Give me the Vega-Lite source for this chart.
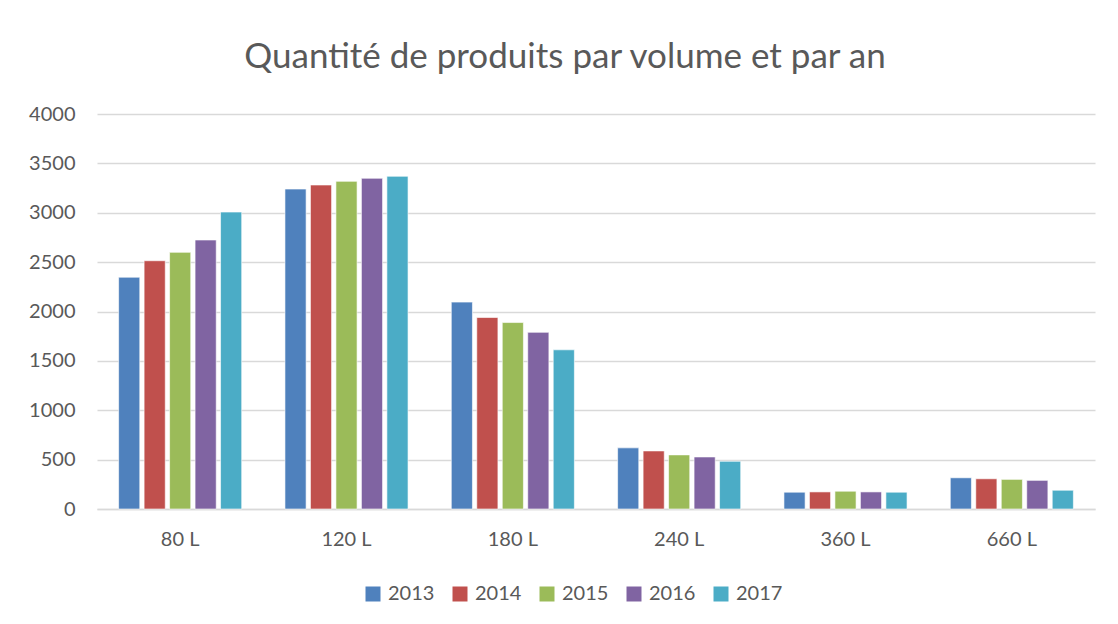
{
  "$schema": "https://vega.github.io/schema/vega-lite/v6.json",
  "autosize": {"type": "none"},
  "padding": {"left": 97, "top": 114, "right": 23, "bottom": 115},
  "width": 998,
  "height": 395,
  "background": "white",
  "title": {
    "text": "Quantité de produits par volume et par an",
    "font": "Lato",
    "fontSize": 35,
    "fontWeight": "normal",
    "color": "#595959",
    "anchor": "middle",
    "baseline": "alphabetic",
    "offset": 1,
    "dx": -31
  },
  "data": {
    "values": [
      {"volume": "80 L", "annee": "2013", "quantite": 2347},
      {"volume": "80 L", "annee": "2014", "quantite": 2514},
      {"volume": "80 L", "annee": "2015", "quantite": 2599},
      {"volume": "80 L", "annee": "2016", "quantite": 2724},
      {"volume": "80 L", "annee": "2017", "quantite": 3007},
      {"volume": "120 L", "annee": "2013", "quantite": 3240},
      {"volume": "120 L", "annee": "2014", "quantite": 3281},
      {"volume": "120 L", "annee": "2015", "quantite": 3318},
      {"volume": "120 L", "annee": "2016", "quantite": 3349},
      {"volume": "120 L", "annee": "2017", "quantite": 3369},
      {"volume": "180 L", "annee": "2013", "quantite": 2095},
      {"volume": "180 L", "annee": "2014", "quantite": 1939},
      {"volume": "180 L", "annee": "2015", "quantite": 1888},
      {"volume": "180 L", "annee": "2016", "quantite": 1789},
      {"volume": "180 L", "annee": "2017", "quantite": 1612},
      {"volume": "240 L", "annee": "2013", "quantite": 619},
      {"volume": "240 L", "annee": "2014", "quantite": 588},
      {"volume": "240 L", "annee": "2015", "quantite": 548},
      {"volume": "240 L", "annee": "2016", "quantite": 527},
      {"volume": "240 L", "annee": "2017", "quantite": 483},
      {"volume": "360 L", "annee": "2013", "quantite": 170},
      {"volume": "360 L", "annee": "2014", "quantite": 173},
      {"volume": "360 L", "annee": "2015", "quantite": 180},
      {"volume": "360 L", "annee": "2016", "quantite": 173},
      {"volume": "360 L", "annee": "2017", "quantite": 170},
      {"volume": "660 L", "annee": "2013", "quantite": 316},
      {"volume": "660 L", "annee": "2014", "quantite": 306},
      {"volume": "660 L", "annee": "2015", "quantite": 300},
      {"volume": "660 L", "annee": "2016", "quantite": 290},
      {"volume": "660 L", "annee": "2017", "quantite": 190}
    ]
  },
  "mark": {"type": "bar", "stroke": "#ffffff", "strokeOpacity": 0.6, "strokeWidth": 1},
  "encoding": {
    "x": {
      "field": "volume",
      "type": "nominal",
      "sort": null,
      "title": null,
      "scale": {"paddingInner": 0.26, "paddingOuter": 0.13},
      "axis": {
        "labelAngle": 0,
        "labelFont": "Lato",
        "labelFontSize": 20,
        "labelColor": "#595959",
        "labelPadding": 20,
        "ticks": false,
        "domainColor": "#d9d9d9",
        "domainWidth": 1.5
      }
    },
    "xOffset": {
      "field": "annee",
      "type": "nominal",
      "scale": {"paddingInner": 0.17}
    },
    "y": {
      "field": "quantite",
      "type": "quantitative",
      "title": null,
      "scale": {"domain": [0, 4000]},
      "axis": {
        "values": [0, 500, 1000, 1500, 2000, 2500, 3000, 3500, 4000],
        "format": "d",
        "labelFont": "Lato",
        "labelFontSize": 20,
        "labelColor": "#595959",
        "labelPadding": 22,
        "ticks": false,
        "domain": false,
        "gridColor": "#d9d9d9",
        "gridWidth": 1.5
      }
    },
    "color": {
      "field": "annee",
      "type": "nominal",
      "title": null,
      "scale": {
        "domain": ["2013", "2014", "2015", "2016", "2017"],
        "range": ["#4F81BD", "#C0504D", "#9BBB59", "#8064A2", "#4BACC6"]
      },
      "legend": {
        "orient": "none",
        "direction": "horizontal",
        "legendX": 266,
        "legendY": 470,
        "symbolType": "square",
        "symbolSize": 225,
        "symbolStrokeWidth": 0,
        "labelFont": "Lato",
        "labelFontSize": 20,
        "labelColor": "#595959",
        "columnPadding": 15,
        "labelOffset": 5
      }
    }
  },
  "config": {"view": {"stroke": null}}
}
